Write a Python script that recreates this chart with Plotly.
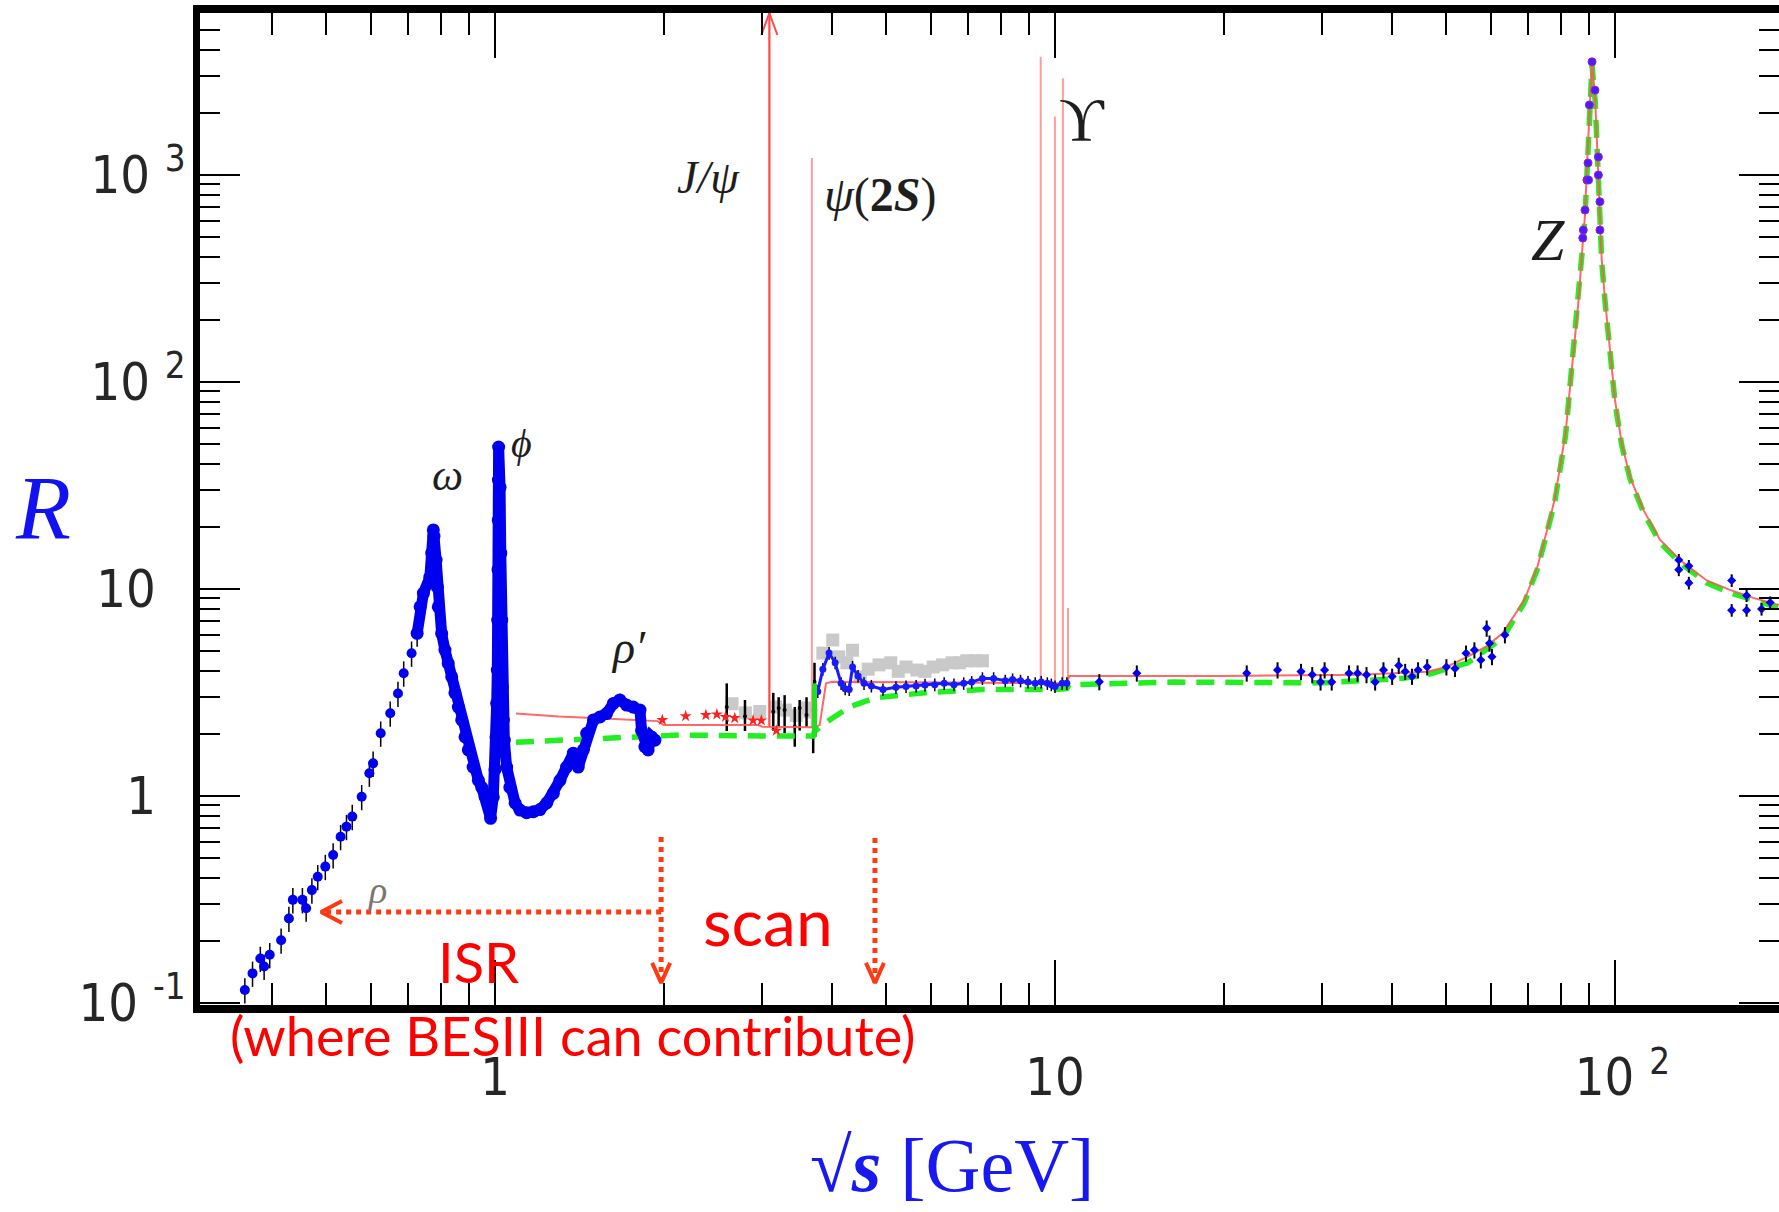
import numpy as np
import plotly.graph_objects as go

# ---------------- axis ticks ----------------
x_major = [1, 10, 100]
x_major_text = ["1", "10", "\u00a010\u00a0<sup>2</sup>"]
x_minor = [0.4, 0.5, 0.6, 0.7, 0.8, 0.9, 2, 3, 4, 5, 6, 7, 8, 9,
           20, 30, 40, 50, 60, 70, 80, 90]
y_major = [0.1, 1, 10, 100, 1000]
y_major_text = ["10\u00a0<sup>-1</sup>", "1\u00a0\u00a0", "10\u00a0\u00a0",
                "10\u00a0<sup>2</sup>", "10\u00a0<sup>3</sup>"]
y_minor = [0.2, 0.3, 0.4, 0.5, 0.6, 0.7, 0.8, 0.9, 2, 3, 4, 5, 6, 7, 8, 9,
           20, 30, 40, 50, 60, 70, 80, 90, 200, 300, 400, 500, 600, 700, 800, 900,
           2000, 3000, 4000, 5000]

# ---------------- data ----------------
# low-energy rho tail (sparse blue points)
tail_x = [0.3575, 0.369, 0.381, 0.387, 0.396, 0.415, 0.4285, 0.4355, 0.453, 0.460,
          0.471, 0.4825, 0.4977, 0.514, 0.530, 0.543, 0.556, 0.578, 0.5965, 0.6058,
          0.625, 0.650, 0.671, 0.687, 0.7096, 0.726]
tail_y = [0.1156, 0.139, 0.164, 0.150, 0.171, 0.201, 0.256, 0.315, 0.315, 0.287,
          0.351, 0.407, 0.456, 0.519, 0.636, 0.711, 0.795, 0.992, 1.287, 1.438,
          2.01, 2.51, 3.13, 3.92, 4.89, 6.11]

# dense omega / phi / rho' band
dense_x = [0.726, 0.735, 0.745, 0.765, 0.771, 0.776, 0.778, 0.785, 0.789, 0.792,
           0.803, 0.814, 0.825, 0.837, 0.848, 0.860, 0.872, 0.884, 0.896, 0.914,
           0.934, 0.947, 0.960, 0.972, 0.982, 0.993, 1.000, 1.004, 1.007, 1.0096,
           1.011, 1.0124, 1.0137, 1.0140, 1.0150, 1.021, 1.024, 1.028, 1.031, 1.035,
           1.039, 1.049, 1.063, 1.086, 1.108, 1.139, 1.171, 1.203, 1.237, 1.271,
           1.306, 1.342, 1.380, 1.408, 1.438, 1.458, 1.499, 1.540, 1.582, 1.627,
           1.671, 1.718, 1.766, 1.815, 1.827, 1.852, 1.877, 1.903, 1.930]
dense_y = [6.11, 8.2, 9.55, 11.4, 14.9, 19.3, 18.0, 13.8, 10.2, 8.2,
           6.1, 5.07, 4.37, 3.76, 3.15, 2.69, 2.33, 1.93, 1.67, 1.38,
           1.19, 1.10, 0.99, 0.925, 0.78, 0.99, 1.34, 1.93, 2.8, 4.06,
           7.08, 12.4, 21.5, 33.6, 48.5, 31.0, 14.9, 7.08, 3.37, 2.33,
           1.86, 1.38, 1.10, 0.925, 0.855, 0.83, 0.84, 0.86, 0.925, 1.03,
           1.19, 1.38, 1.61, 1.38, 1.67, 2.01, 2.33, 2.41, 2.5, 2.8,
           2.91, 2.75, 2.69, 2.6, 2.07, 1.73, 1.67, 1.93, 1.86]

# red stars (2-3.2 GeV)
star_x = [1.99, 2.19, 2.38, 2.49, 2.58, 2.68, 2.89, 2.99, 3.18]
star_y = [2.33, 2.43, 2.46, 2.48, 2.41, 2.38, 2.32, 2.32, 2.07]

# black points with error bars (2.5-3.7 GeV)
blk_x = [2.593, 2.795, 3.14, 3.21, 3.29, 3.43, 3.50, 3.60, 3.70, 3.72]
blk_y = [2.69, 2.43, 2.55, 2.66, 2.60, 2.16, 2.66, 2.46, 1.93, 3.56]
blk_hi = [3.50, 2.91, 3.15, 3.00, 3.07, 2.69, 2.91, 3.00, 2.33, 4.40]
blk_lo = [2.06, 2.06, 2.07, 2.16, 2.01, 1.73, 2.07, 2.16, 1.61, 2.91]

# grey points (2.6-7.5 GeV)
grey_x = [2.65, 2.80, 2.97, 3.17, 3.30, 3.45, 3.58, 3.65, 3.85, 4.01, 4.11, 4.25,
          4.35, 4.49, 4.64, 4.85, 5.09, 5.25, 5.42, 5.67, 5.86, 6.06, 6.30, 6.55,
          6.75, 6.96, 7.20, 7.42]
grey_y = [2.79, 2.52, 2.56, 2.69, 2.60, 2.45, 2.66, 2.55, 4.90, 5.67, 4.70, 4.40,
          5.06, 3.76, 4.10, 4.30, 4.40, 4.00, 4.20, 4.06, 4.00, 4.20, 4.30, 4.40,
          4.40, 4.50, 4.50, 4.50]

# blue points 3.7-10.5 GeV
bmid_x = [3.77, 3.85, 3.95, 4.05, 4.15, 4.22, 4.29, 4.35, 4.45, 4.56, 4.70, 4.93,
          5.20, 5.42, 5.65, 5.86, 6.10, 6.34, 6.60, 6.87, 7.10, 7.42, 7.77, 8.15,
          8.40, 8.68, 8.95, 9.22, 9.45, 9.69, 9.85, 10.0, 10.3, 10.5]
bmid_y = [3.2, 4.1, 4.9, 4.4, 3.5, 3.3, 3.27, 4.2, 3.8, 3.5, 3.4, 3.27,
          3.35, 3.38, 3.4, 3.44, 3.45, 3.5, 3.45, 3.5, 3.55, 3.7, 3.7, 3.6,
          3.65, 3.6, 3.55, 3.5, 3.55, 3.5, 3.45, 3.38, 3.5, 3.5]

# blue points 12-64 GeV
bhi_x = [12.0, 14.0, 22.0, 24.97, 27.5, 28.8, 29.8, 30.3, 31.2, 33.5, 34.7, 36.0,
         37.3, 38.6, 40.0, 41.1, 42.2, 43.4, 44.5, 46.2, 50.0, 51.8, 54.2, 56.1,
         57.6, 59.0, 59.7, 60.3, 63.6]
bhi_y = [3.56, 3.92, 3.92, 4.06, 3.99, 3.85, 3.55, 4.06, 3.55, 3.92, 3.92, 3.85,
         3.55, 4.06, 3.78, 4.27, 3.99, 3.78, 4.06, 4.20, 4.20, 4.13, 4.89, 5.07,
         4.54, 6.46, 5.47, 4.71, 6.00]

# Z peak points
z_x = [87.6, 87.8, 88.4, 89.1, 89.5, 89.7, 90.0, 91.0, 92.1, 93.4, 93.4, 94.0, 94.0]
z_y = [496, 542, 677, 946, 1143, 946, 2180, 3524, 2570, 1222, 1000, 743, 542]

# points above the Z
post_x = [130.0, 130.0, 135.5, 135.5, 161.6, 161.6, 171.8, 171.8, 182.7, 189.3]
post_y = [13.8, 12.4, 12.9, 10.7, 11.0, 7.9, 9.3, 7.9, 8.0, 8.6]

# red continuum curve
red_x = [1.09, 1.3, 1.6, 1.95, 2.0, 2.6, 2.95, 3.0, 3.5, 3.7, 3.80, 3.86, 3.9, 4.0,
         4.5, 6.0, 8.0, 10.0, 10.5, 10.6, 11, 20, 35, 42, 46.2, 50, 54.6, 59, 63,
         68.9, 72.7, 75.9, 78.0, 81.6, 83.8, 86.0, 87.6, 88.4, 89.1, 90.4, 91.0,
         92.2, 92.9, 93.4, 94.0, 94.7, 96.0, 97.9, 100.0, 102.8, 106.4, 112.4,
         120.3, 130.6, 145.8, 160.4, 176.6, 196.3]
red_y = [2.5, 2.42, 2.36, 2.3, 2.2, 2.2, 2.2, 2.16, 2.15, 2.15, 2.2, 3.0, 3.5, 3.56,
         3.55, 3.55, 3.5, 3.5, 3.5, 3.8, 3.8, 3.8, 3.85, 3.92, 3.98, 4.2, 4.71, 5.3,
         6.11, 8.85, 12.8, 20, 26.9, 56.5, 118.6, 240, 470, 640, 1097, 2303, 3524,
         2303, 1321, 915, 542, 388, 249, 143, 81.9, 50.7, 34.7, 24.1,
         17.3, 13.8, 11.0, 9.9, 9.06, 8.37]

# green dashed (parton model)
grn_x = [1.09, 1.5, 2.14, 3.0, 3.7, 3.72, 3.96, 4.29, 4.79, 5.86, 7.42, 10.0, 10.5,
         10.6, 16.3, 30, 41.8, 46.2, 54.6, 63.0, 68.9, 72.7, 75.9, 78.0, 81.6, 83.8,
         86.0, 87.6, 88.4, 89.1, 90.4, 91.0, 92.2, 92.9, 93.4, 94.0, 94.7, 96.0,
         97.9, 100.0, 102.8, 106.4, 112.4, 120.3, 130.6, 145.8, 160.4, 176.6, 196.3]
grn_y = [1.82, 1.9, 1.97, 1.95, 1.95, 2.05, 2.33, 2.69, 2.99, 3.15, 3.27, 3.27, 3.3,
         3.45, 3.55, 3.52, 3.7, 3.85, 4.4, 5.8, 8.6, 12.5, 19.5, 26, 55, 116,
         235, 460, 630, 1080, 2250, 3400, 2250, 1300, 900, 535, 380, 245,
         140, 80, 49.5, 34, 23.5, 16.8, 13.4, 10.7, 9.6, 8.8, 8.1]

# green data bar near 3.7 GeV
gbar_x = [3.72]
gbar_y = [2.6]
gbar_hi = [3.5]
gbar_lo = [1.93]

# narrow resonances (spikes)
jpsi_x = 3.09
jpsi_base = 2.16
psi_x = [3.68, 9.43, 9.996, 10.33, 10.55]
psi_base = [2.15, 3.5, 3.5, 3.5, 3.5]
psi_top = [1208, 3725, 1915, 2930, 8.1]

# labels of resonances
lab_text = ["<i>J/ψ</i>", "<i>ψ</i>(<b>2<i>S</i></b>)", "ϒ", "<i>Z</i>", "<i>ω</i>",
            "<i>ϕ</i>", "<i>ρ′</i>", "<i>ρ</i>"]
lab_x = [2.41, 4.87, 11.17, 75.9, 0.821, 1.117, 1.728, 0.616]
lab_y = [968, 800, 1864, 485, 35.2, 50.7, 5.2, 0.352]
lab_size = [46, 48, 62, 60, 44, 40, 46, 38]
lab_color = ["#1e1e1e"] * 7 + ["#7d746c"]

# ISR / scan arrows
isr_arrow_x = [1.98, 0.489]
isr_arrow_y = [0.2754, 0.2754]
scan_arrow_x = [1.98, 4.77]
scan_arrow_top = [0.634, 0.626]
scan_arrow_tip = [0.125, 0.125]

# ---------------- geometry of the page ----------------
W, H = 1779, 1212
ML, MR, MT, MB = 200, 0, 13, 207
XR = [-0.5268, 2.2929]
YR = [-1.0097, 3.7826]
px_per_dec_x = (W - ML - MR) / (XR[1] - XR[0])
px_per_dec_y = (H - MT - MB) / (YR[1] - YR[0])


def xs(v, dpx):
    return 10 ** (np.log10(v) + dpx / px_per_dec_x)


def ys(v, dpx):
    return 10 ** (np.log10(v) + dpx / px_per_dec_y)


fig = go.Figure()

# grey points
fig.add_trace(go.Scatter(x=grey_x, y=grey_y, mode="markers",
                         marker=dict(symbol="square", size=13, color="#c9c9c9"),
                         showlegend=False, hoverinfo="skip"))

# black points with errors
fig.add_trace(go.Scatter(
    x=blk_x, y=blk_y, mode="markers",
    marker=dict(size=4, color="black"),
    error_y=dict(type="data", symmetric=False,
                 array=[h - c for h, c in zip(blk_hi, blk_y)],
                 arrayminus=[c - l for c, l in zip(blk_y, blk_lo)],
                 color="black", thickness=2.5, width=0),
    showlegend=False, hoverinfo="skip"))

# resonance spikes
sx, sy = [], []
for m, b, t in zip(psi_x, psi_base, psi_top):
    sx += [m, m, None]
    sy += [b, t, None]
fig.add_trace(go.Scatter(x=sx, y=sy, mode="lines",
                         line=dict(color="#ff9c9c", width=2),
                         showlegend=False, hoverinfo="skip"))
ytop = 10 ** YR[1]
fig.add_trace(go.Scatter(x=[jpsi_x, jpsi_x], y=[jpsi_base, ytop], mode="lines",
                         line=dict(color="#ff4a4a", width=2.2),
                         showlegend=False, hoverinfo="skip", cliponaxis=False))
fig.add_trace(go.Scatter(x=[xs(jpsi_x, -8), jpsi_x, xs(jpsi_x, 8)],
                         y=[ys(ytop, -22), ytop, ys(ytop, -22)], mode="lines",
                         line=dict(color="#ff4a4a", width=2),
                         showlegend=False, hoverinfo="skip", cliponaxis=False))

# green dashed curve
fig.add_trace(go.Scatter(x=grn_x, y=grn_y, mode="lines",
                         line=dict(color="#22ee22", width=5.5, dash="18px,11px"),
                         showlegend=False, hoverinfo="skip"))

# red continuum curve
fig.add_trace(go.Scatter(x=red_x, y=red_y, mode="lines",
                         line=dict(color="#ff5858", width=2),
                         opacity=0.9, showlegend=False, hoverinfo="skip"))

# blue rho tail
fig.add_trace(go.Scatter(x=tail_x, y=tail_y, mode="markers",
                         marker=dict(size=10, color="#0000ee"),
                         error_y=dict(type="percent", value=14, color="black",
                                      thickness=1.5, width=0),
                         showlegend=False, hoverinfo="skip"))
# dense omega/phi band
fig.add_trace(go.Scatter(x=dense_x, y=dense_y, mode="lines+markers",
                         line=dict(color="#0000ee", width=11),
                         marker=dict(size=13, color="#0000ee"),
                         showlegend=False, hoverinfo="skip"))
# blue mid
fig.add_trace(go.Scatter(x=bmid_x, y=bmid_y, mode="lines+markers",
                         line=dict(color="#1a1aff", width=3),
                         marker=dict(size=7, color="#1a1aff"),
                         error_y=dict(type="percent", value=7, color="black",
                                      thickness=1.5, width=0),
                         showlegend=False, hoverinfo="skip"))
# blue high
fig.add_trace(go.Scatter(x=bhi_x, y=bhi_y, mode="markers",
                         marker=dict(size=7, color="#0000ee", symbol="diamond"),
                         error_y=dict(type="percent", value=9, color="black",
                                      thickness=2, width=0),
                         showlegend=False, hoverinfo="skip"))
# Z points
fig.add_trace(go.Scatter(x=z_x, y=z_y, mode="markers",
                         marker=dict(size=8, color="#4b1cff",
                                     line=dict(color="#a020c0", width=1)),
                         showlegend=False, hoverinfo="skip"))
# points above Z (drawn on right-hand y axis, same scale)
fig.add_trace(go.Scatter(x=post_x, y=post_y, mode="markers", yaxis="y2",
                         marker=dict(size=7, color="#0000ee", symbol="diamond"),
                         error_y=dict(type="percent", value=7, color="black",
                                      thickness=2, width=0),
                         showlegend=False, hoverinfo="skip"))
# red stars
fig.add_trace(go.Scatter(x=star_x, y=star_y, mode="markers",
                         marker=dict(symbol="star", size=9, color="#ff2020"),
                         showlegend=False, hoverinfo="skip"))
# green bar
fig.add_trace(go.Scatter(
    x=gbar_x, y=gbar_y, mode="markers",
    marker=dict(size=6, color="#22dd22"),
    error_y=dict(type="data", symmetric=False,
                 array=[h - c for h, c in zip(gbar_hi, gbar_y)],
                 arrayminus=[c - l for c, l in zip(gbar_y, gbar_lo)],
                 color="#22dd22", thickness=5, width=0),
    showlegend=False, hoverinfo="skip"))

# ---------------- ISR / scan arrows ----------------
arrow_col = "#ff3a12"
fig.add_trace(go.Scatter(x=isr_arrow_x, y=isr_arrow_y, mode="lines",
                         line=dict(color=arrow_col, width=5, dash="dot"),
                         showlegend=False, hoverinfo="skip"))
tipx, tipy = isr_arrow_x[1], isr_arrow_y[1]
fig.add_trace(go.Scatter(x=[xs(tipx, 21), tipx, xs(tipx, 21)],
                         y=[ys(tipy, 11), tipy, ys(tipy, -11)], mode="lines",
                         line=dict(color=arrow_col, width=4),
                         showlegend=False, hoverinfo="skip"))
for ax_, top_, tip_ in zip(scan_arrow_x, scan_arrow_top, scan_arrow_tip):
    fig.add_trace(go.Scatter(x=[ax_, ax_], y=[top_, tip_], mode="lines",
                             line=dict(color=arrow_col, width=5, dash="dot"),
                             showlegend=False, hoverinfo="skip"))
    fig.add_trace(go.Scatter(x=[xs(ax_, -9), ax_, xs(ax_, 9)],
                             y=[ys(tip_, 20), tip_, ys(tip_, 20)], mode="lines",
                             line=dict(color=arrow_col, width=4),
                             showlegend=False, hoverinfo="skip"))

# ---------------- annotations ----------------
serif = "Liberation Serif, DejaVu Serif, serif"
ann = []
for t, x, y, s, c in zip(lab_text, lab_x, lab_y, lab_size, lab_color):
    ann.append(dict(text=t, x=np.log10(x), y=np.log10(y), xref="x", yref="y",
                    showarrow=False, xanchor="center", yanchor="middle",
                    font=dict(family=serif, size=s, color=c)))

red_font = "Lato, Open Sans, sans-serif"
ann.append(dict(text="ISR", x=np.log10(0.936), y=np.log10(0.158), xref="x", yref="y",
                showarrow=False, xanchor="center", yanchor="middle",
                font=dict(family=red_font, size=56, color="#ff0000")))
ann.append(dict(text="scan", x=np.log10(3.07), y=np.log10(0.25), xref="x", yref="y",
                showarrow=False, xanchor="center", yanchor="middle",
                font=dict(family=red_font, size=66, color="#ff0000")))
ann.append(dict(text="(where BESIII can contribute)", x=np.log10(1.373), y=-0.031,
                xref="x", yref="paper", showarrow=False, xanchor="center", yanchor="middle",
                font=dict(family=red_font, size=54, color="#ff0000")))
# axis titles
ann.append(dict(text="<i>R</i>", x=-0.0994, y=0.501, xref="paper", yref="paper",
                showarrow=False, xanchor="center", yanchor="middle",
                font=dict(family=serif, size=90, color="#1212f0")))
ann.append(dict(text="<b>√<i>s</i></b> [GeV]", x=0.4763, y=-0.161, xref="paper", yref="paper",
                showarrow=False, xanchor="center", yanchor="middle",
                font=dict(family=serif, size=76, color="#1818f0")))

tick_font = dict(family="Liberation Sans Narrow, Arial Narrow, DejaVu Sans Condensed, sans-serif",
                 size=52, color="#262626")

fig.update_layout(
    width=W, height=H,
    margin=dict(l=ML, r=MR, t=MT, b=MB, pad=0),
    paper_bgcolor="white", plot_bgcolor="white",
    showlegend=False,
    annotations=ann,
    xaxis=dict(type="log", range=XR, showgrid=False, zeroline=False,
               showline=True, linewidth=8, linecolor="black", mirror="ticks",
               ticks="inside", ticklen=45, tickwidth=2, tickcolor="black",
               tickmode="array", tickvals=x_major, ticktext=x_major_text,
               tickfont=tick_font, ticklabelstandoff=20,
               minor=dict(tickmode="array", tickvals=x_minor, ticks="inside",
                          ticklen=22, tickwidth=2, tickcolor="black", showgrid=False)),
    yaxis=dict(type="log", range=YR, showgrid=False, zeroline=False,
               showline=True, linewidth=7, linecolor="black",
               ticks="inside", ticklen=40, tickwidth=2, tickcolor="black",
               tickmode="array", tickvals=y_major, ticktext=y_major_text,
               tickfont=tick_font, ticklabelstandoff=-3,
               minor=dict(tickmode="array", tickvals=y_minor, ticks="inside",
                          ticklen=20, tickwidth=2, tickcolor="black", showgrid=False)),
    yaxis2=dict(type="log", range=YR, overlaying="y", side="right",
                showgrid=False, zeroline=False, showline=False,
                showticklabels=False,
                ticks="inside", ticklen=40, tickwidth=2, tickcolor="black",
                tickmode="array", tickvals=y_major,
                minor=dict(tickmode="array", tickvals=y_minor, ticks="inside",
                           ticklen=20, tickwidth=2, tickcolor="black", showgrid=False)),
)

fig.write_html("out.html")
